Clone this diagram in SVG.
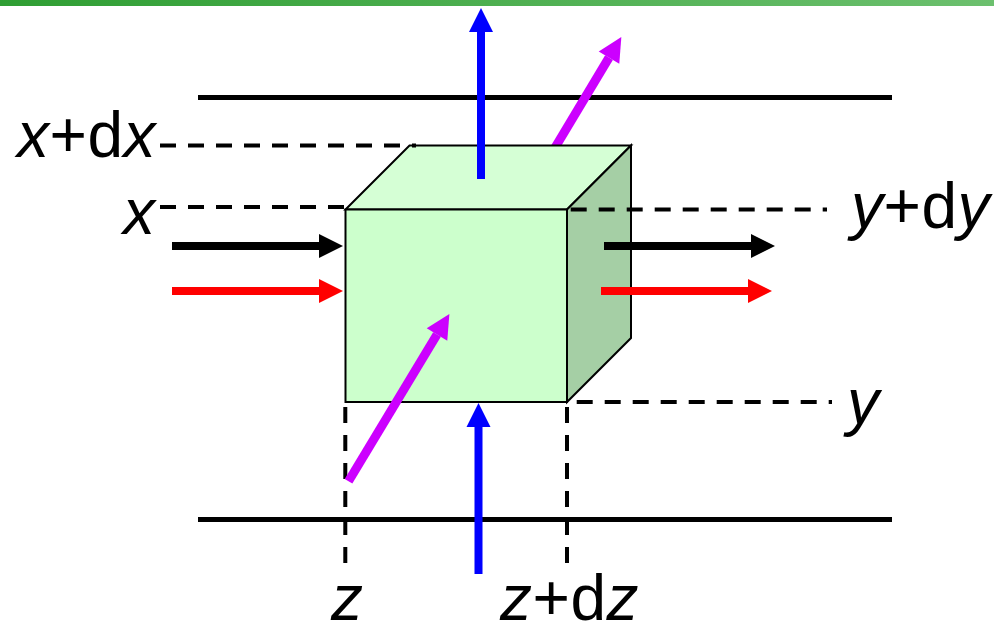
<svg xmlns="http://www.w3.org/2000/svg" width="994" height="622" viewBox="0 0 994 622">
<style>
.face{stroke:#000;stroke-width:2;stroke-linejoin:miter}
.wall{stroke:#000;stroke-width:5;fill:none}
.dash{stroke:#000;stroke-width:4;stroke-dasharray:16 12;fill:none}
.arrow{stroke-width:8;fill:none}
.k{stroke:#000}.r{stroke:#f00}.b{stroke:#00f}.p{stroke:#c0f;stroke-width:9}
text{font-family:"Liberation Sans",Arial,sans-serif;font-size:64px;fill:#000}
.sp{letter-spacing:.5px}
.i{font-style:italic}
</style>
<defs>
<linearGradient id="bar" x1="0" x2="1" y1="0" y2="0"><stop offset="0" stop-color="#2f9e33"/><stop offset="1" stop-color="#6cc06e"/></linearGradient>
<marker id="hk" markerUnits="userSpaceOnUse" markerWidth="24" markerHeight="24" refX="0" refY="12" orient="auto" overflow="visible"><path d="M0 0L24 12L0 24Z" fill="#000"/></marker>
<marker id="hr" markerUnits="userSpaceOnUse" markerWidth="24" markerHeight="24" refX="0" refY="12" orient="auto" overflow="visible"><path d="M0 0L24 12L0 24Z" fill="#f00"/></marker>
<marker id="hb" markerUnits="userSpaceOnUse" markerWidth="24" markerHeight="24" refX="0" refY="12" orient="auto" overflow="visible"><path d="M0 0L24 12L0 24Z" fill="#00f"/></marker>
<marker id="hp" markerUnits="userSpaceOnUse" markerWidth="24" markerHeight="24" refX="0" refY="12" orient="auto" overflow="visible"><path d="M0 0L24 12L0 24Z" fill="#c0f"/></marker>
</defs>
<rect id="top-bar" x="0" y="0" width="994" height="6" fill="url(#bar)"/>
<g id="walls">
<line class="wall" x1="198" y1="97.5" x2="892" y2="97.5"/>
<line class="wall" x1="198" y1="519.5" x2="892" y2="519.5"/>
</g>
<g id="connectors-behind">
<line class="arrow p" x1="553" y1="151" x2="609" y2="57.6" marker-end="url(#hp)"/>
</g>
<g id="cube">
<polygon class="face" points="345.5,209.5 409.5,145.5 631,145.5 567,209.5" fill="#d5ffd5"/>
<polygon class="face" points="567,209.5 631,145.5 631,338 567,402" fill="#a5cfa5"/>
<rect class="face" x="345.5" y="209.5" width="221.5" height="192.5" fill="#ccffcc"/>
</g>
<g id="guides">
<path class="dash" d="M160 145.5H416"/>
<path class="dash" d="M160 207H345"/>
<path class="dash" d="M570.7 209.5H827"/>
<path class="dash" d="M576.7 402H832"/>
<path class="dash" d="M345.3 407V563"/>
<path class="dash" d="M567 407V563"/>
</g>
<g id="connectors">
<line class="arrow k" x1="172" y1="246" x2="319" y2="246" marker-end="url(#hk)"/>
<line class="arrow r" x1="172" y1="291" x2="319" y2="291" marker-end="url(#hr)"/>
<line class="arrow k" x1="604" y1="246" x2="751" y2="246" marker-end="url(#hk)"/>
<line class="arrow r" x1="601" y1="291" x2="748" y2="291" marker-end="url(#hr)"/>
<line class="arrow b" x1="481" y1="179" x2="481" y2="32" marker-end="url(#hb)"/>
<line class="arrow b" x1="478.5" y1="574" x2="478.5" y2="427" marker-end="url(#hb)"/>
<line class="arrow p" x1="348.5" y1="481.3" x2="437" y2="334.5" marker-end="url(#hp)"/>
</g>
<g id="labels">
<text class="sp" x="17" y="156.5"><tspan class="i">x</tspan>+d<tspan class="i">x</tspan></text>
<text x="123" y="234"><tspan class="i">x</tspan></text>
<text class="sp" x="851" y="228"><tspan class="i">y</tspan>+d<tspan class="i">y</tspan></text>
<text x="847" y="424"><tspan class="i">y</tspan></text>
<text x="331" y="620"><tspan class="i">z</tspan></text>
<text class="sp" x="500" y="620"><tspan class="i">z</tspan>+d<tspan class="i">z</tspan></text>
</g>
</svg>
